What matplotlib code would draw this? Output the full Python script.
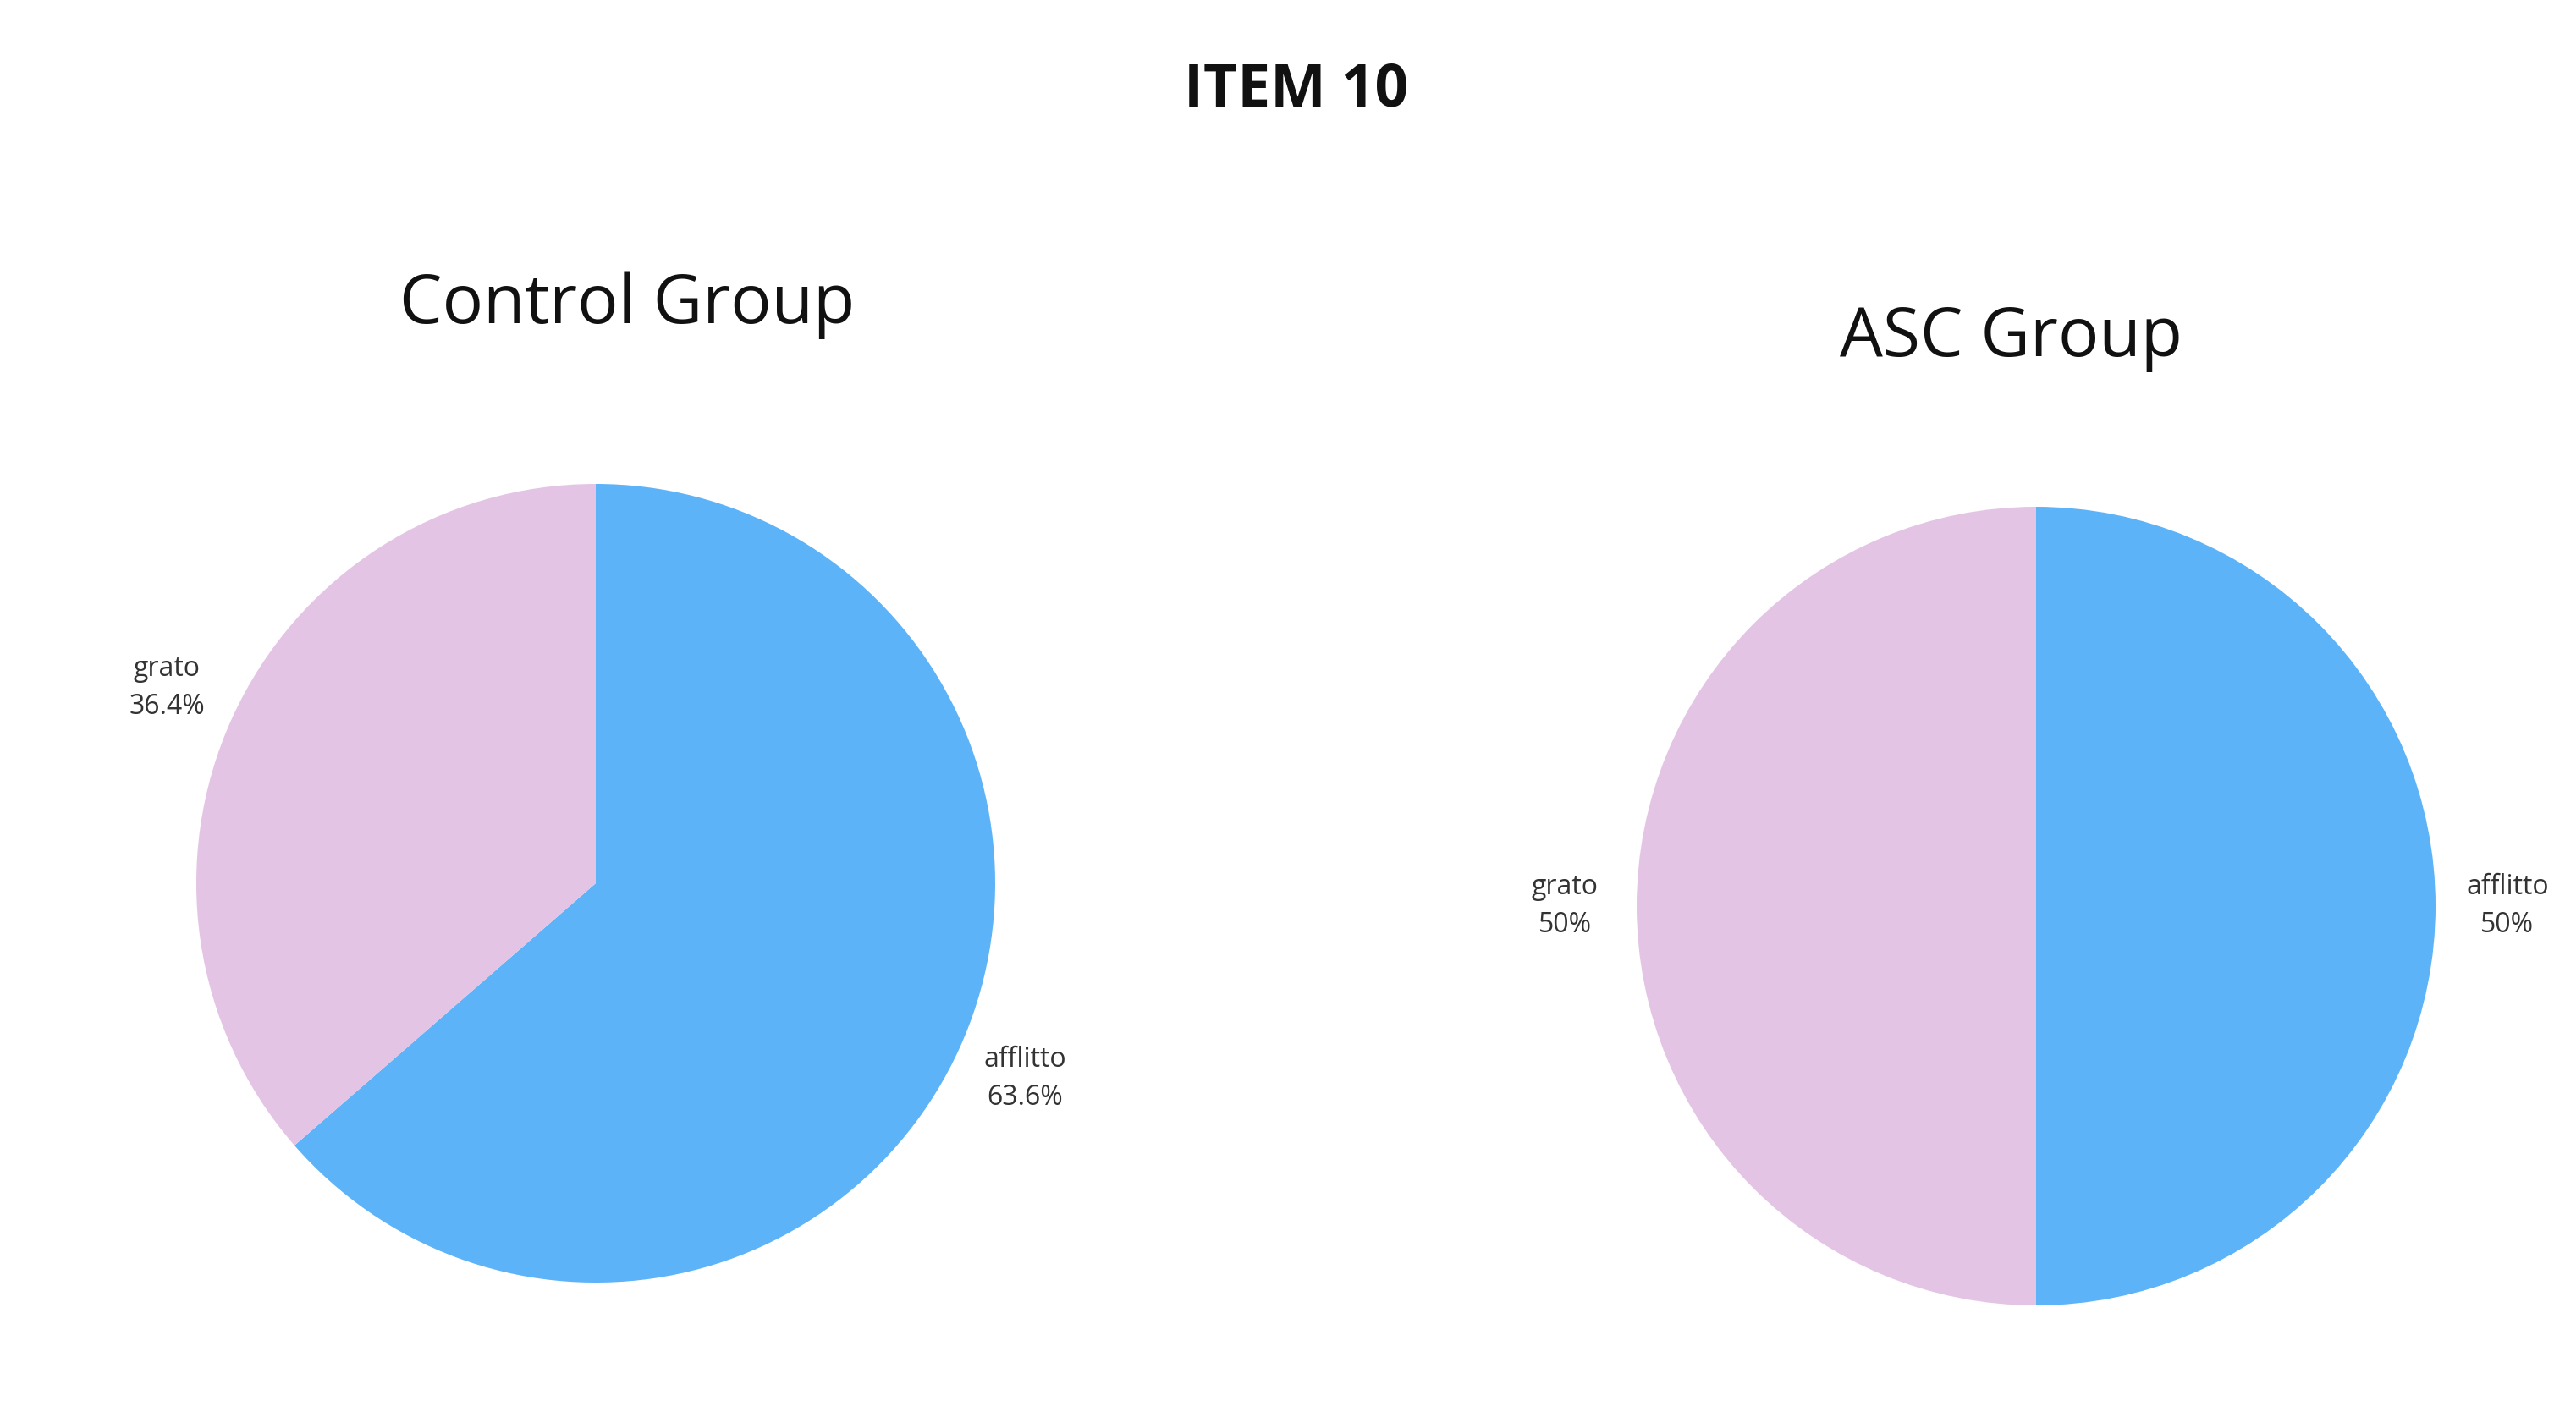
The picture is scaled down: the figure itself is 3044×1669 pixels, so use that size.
import matplotlib
matplotlib.use("Agg")
import matplotlib.pyplot as plt

labels = ["afflitto", "grato"]
control_vals = [63.6, 36.4]
asc_vals = [50, 50]
colors = ["#5DB3F8", "#E4C4E4"]
plt.rcParams['font.family'] = ['Open Sans', 'DejaVu Sans']

W, H = 3044, 1669
fig = plt.figure(figsize=(W/100, H/100), dpi=100)
fig.patch.set_facecolor("white")

def add_pie(cx, cy, r, vals, pcts, title, tx, ty):
    ax = fig.add_axes([(cx-r)/W, 1-(cy+r)/H, 2*r/W, 2*r/H])
    lab = [f"{l}\n{p}" for l, p in zip(labels, pcts)]
    wedges, texts = ax.pie(vals, colors=colors, startangle=90, counterclock=False,
                           labels=lab, labeldistance=1.18,
                           textprops=dict(fontsize=23, color="#333333"))
    for t in texts:
        t.set_ha("center"); t.set_va("center"); t.set_linespacing(1.5)
        t.set_clip_on(False)
    ax.set_xlim(-1, 1); ax.set_ylim(-1, 1)
    ax.set_aspect("equal")
    fig.text(tx/W, 1-ty/H, title, ha="center", va="center", fontsize=58, color="#111111")

add_pie(704, 1044, 472, control_vals, ["63.6%", "36.4%"], "Control Group", 741, 361)
add_pie(2406, 1071, 472, asc_vals, ["50%", "50%"], "ASC Group", 2377, 400)
fig.text(1532/W, 1-107/H, "ITEM 10", ha="center", va="center", fontsize=50,
         fontweight="bold", color="#111111")
fig.savefig("out.png", dpi=100)
